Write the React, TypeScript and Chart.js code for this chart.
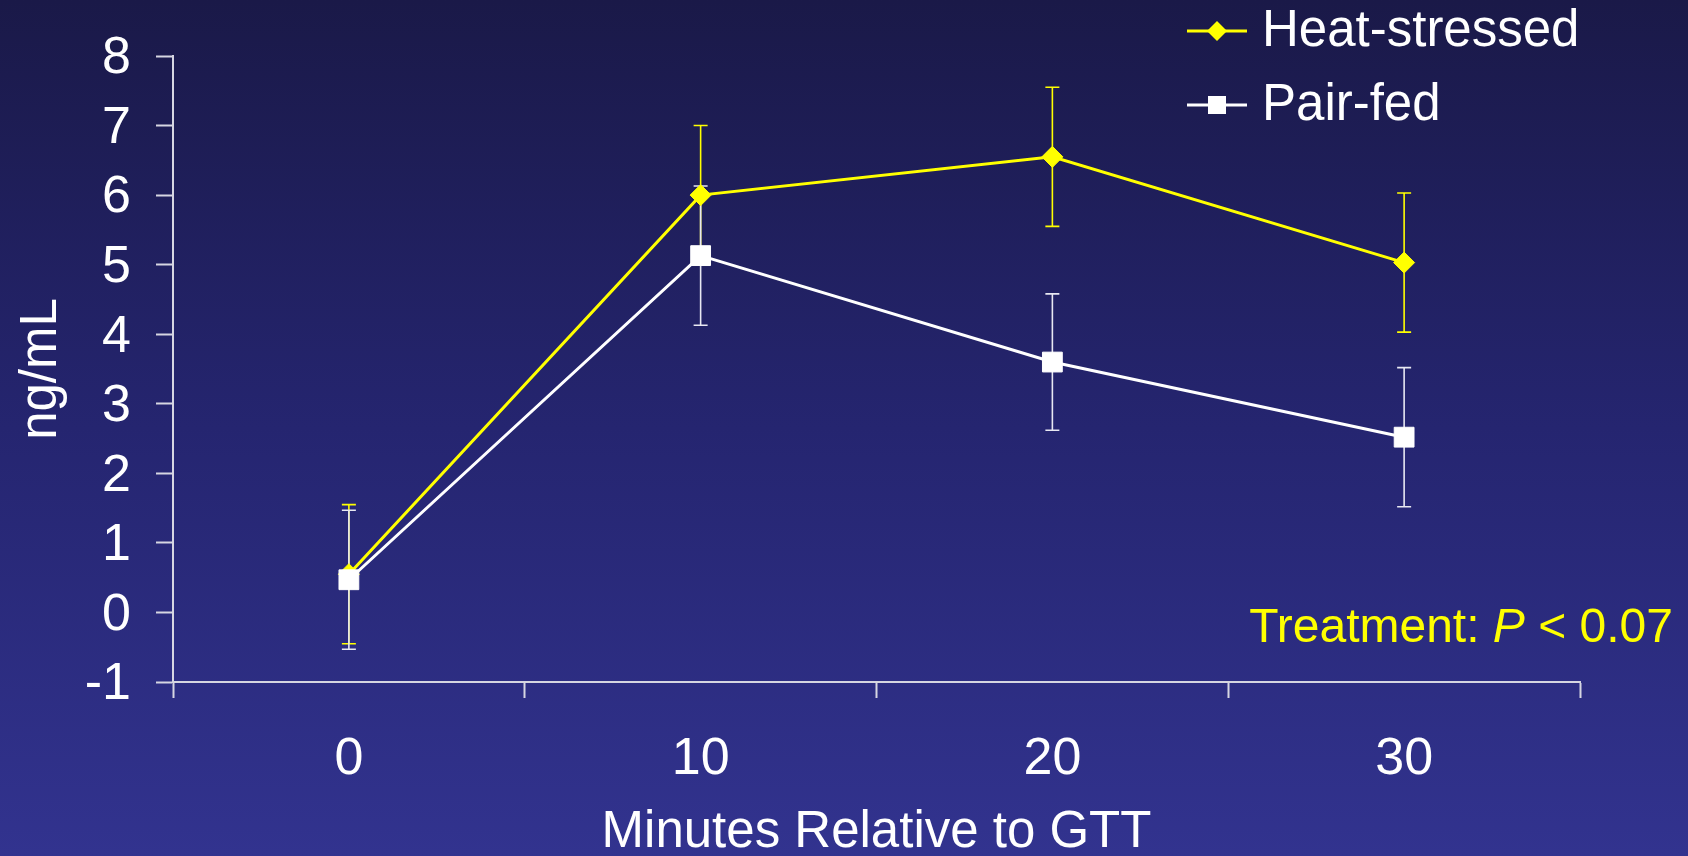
import React, { useEffect, useRef } from "react";
import { Chart, registerables } from "chart.js";

Chart.register(...registerables);

const categories = ["0", "10", "20", "30"];
const seriesLabels = ["Heat-stressed", "Pair-fed"];
const heatStressed = [0.55, 6.0, 6.55, 5.03];
const heatStressedErr = [1.0, 1.0, 1.0, 1.0];
const pairFed = [0.47, 5.13, 3.6, 2.52];
const pairFedErr = [1.0, 1.0, 0.98, 1.0];
const yTickMin = -1;
const yTickMax = 8;
const yTickStep = 1;
const xTitle = "Minutes Relative to GTT";
const yTitle = "ng/mL";
const noteLabel = "Treatment: ";
const noteP = "P";
const noteValue = " < 0.07";

const YELLOW = "#ffff00";
const WHITE = "#ffffff";
const AXIS = "#d6d6e2";
const FONT = "'Liberation Sans', Arial, sans-serif";

const errors = [heatStressedErr, pairFedErr];

const errorBarPlugin = {
  id: "errorBars",
  beforeDatasetsDraw(chart: any) {
    const { ctx } = chart;
    const y = chart.scales.y;
    const x = chart.scales.x;
    chart.data.datasets.forEach((ds: any, di: number) => {
      const err = errors[di];
      ctx.save();
      ctx.strokeStyle = di === 0 ? YELLOW : "#e8e8f2";
      ctx.lineWidth = 1.6;
      ds.data.forEach((v: number, i: number) => {
        const px = x.getPixelForValue(i);
        const top = y.getPixelForValue(v + err[i]);
        const bot = y.getPixelForValue(v - err[i]);
        ctx.beginPath();
        ctx.moveTo(px, top);
        ctx.lineTo(px, bot);
        ctx.moveTo(px - 7, top);
        ctx.lineTo(px + 7, top);
        ctx.moveTo(px - 7, bot);
        ctx.lineTo(px + 7, bot);
        ctx.stroke();
      });
      ctx.restore();
    });
  },
};

const annotationPlugin = {
  id: "legendAndNote",
  afterDraw(chart: any) {
    const { ctx, chartArea } = chart;
    ctx.save();
    // legend
    const legendYs = [31, 105];
    const lx0 = 1187;
    const lx1 = 1247;
    const mx = (lx0 + lx1) / 2;
    chart.data.datasets.forEach((ds: any, i: number) => {
      const ly = legendYs[i];
      ctx.strokeStyle = ds.borderColor;
      ctx.lineWidth = 3;
      ctx.beginPath();
      ctx.moveTo(lx0, ly);
      ctx.lineTo(lx1, ly);
      ctx.stroke();
      ctx.fillStyle = ds.borderColor;
      ctx.beginPath();
      if (ds.pointStyle === "rectRot") {
        const r = 10;
        ctx.moveTo(mx - r, ly);
        ctx.lineTo(mx, ly - r);
        ctx.lineTo(mx + r, ly);
        ctx.lineTo(mx, ly + r);
        ctx.closePath();
      } else {
        ctx.rect(mx - 9, ly - 9, 18, 18);
      }
      ctx.fill();
      ctx.fillStyle = WHITE;
      ctx.font = `51px ${FONT}`;
      ctx.textBaseline = "middle";
      ctx.textAlign = "left";
      ctx.fillText(ds.label, 1262, ly + 1);
    });
    // note
    const normal = `48px ${FONT}`;
    const italic = `italic 48px ${FONT}`;
    ctx.font = normal;
    const w1 = ctx.measureText(noteLabel).width;
    const w3 = ctx.measureText(noteValue).width;
    ctx.font = italic;
    const w2 = ctx.measureText(noteP).width;
    const right = chartArea.right + 93;
    let xx = right - (w1 + w2 + w3);
    const ny = 629;
    ctx.fillStyle = YELLOW;
    ctx.textBaseline = "middle";
    ctx.textAlign = "left";
    ctx.font = normal;
    ctx.fillText(noteLabel, xx, ny);
    xx += w1;
    ctx.font = italic;
    ctx.fillText(noteP, xx, ny);
    xx += w2;
    ctx.font = normal;
    ctx.fillText(noteValue, xx, ny);
    ctx.restore();
  },
};

export default function App() {
  const ref = useRef<HTMLCanvasElement | null>(null);
  useEffect(() => {
    if (!ref.current) return;
    const chart = new Chart(ref.current, {
      type: "line",
      data: {
        labels: categories,
        datasets: [
          {
            label: seriesLabels[0],
            data: heatStressed,
            borderColor: YELLOW,
            backgroundColor: YELLOW,
            borderWidth: 3,
            pointStyle: "rectRot",
            pointRadius: 10.5,
            pointBorderWidth: 1,
            pointBackgroundColor: YELLOW,
            pointBorderColor: YELLOW,
            tension: 0,
            order: 2,
          },
          {
            label: seriesLabels[1],
            data: pairFed,
            borderColor: WHITE,
            backgroundColor: WHITE,
            borderWidth: 3,
            pointStyle: "rect",
            pointRadius: 14,
            pointBorderWidth: 1,
            pointBackgroundColor: WHITE,
            pointBorderColor: WHITE,
            tension: 0,
            order: 1,
          },
        ],
      },
      options: {
        animation: false,
        responsive: false,
        maintainAspectRatio: false,
        layout: { padding: { top: 56, right: 108, left: 0, bottom: 0 } },
        plugins: {
          legend: { display: false },
          tooltip: { enabled: false },
        },
        scales: {
          x: {
            type: "category",
            offset: true,
            grid: {
              offset: true,
              drawOnChartArea: false,
              drawTicks: true,
              tickLength: 16,
              tickWidth: 2,
              tickColor: AXIS,
              color: AXIS,
            },
            border: { color: AXIS, width: 2 },
            ticks: {
              color: WHITE,
              font: { family: FONT, size: 52, lineHeight: 1 },
              padding: 36,
              maxRotation: 0,
            },
            title: {
              display: true,
              text: xTitle,
              color: WHITE,
              font: { family: FONT, size: 51, lineHeight: 1 },
              padding: { top: 0, bottom: -2 },
            },
            afterFit(scale: any) {
              scale.height = 174;
            },
          },
          y: {
            min: yTickMin,
            max: yTickMax,
            grid: {
              drawOnChartArea: false,
              drawTicks: true,
              tickLength: 17,
              tickWidth: 2,
              tickColor: AXIS,
              color: AXIS,
            },
            border: { color: AXIS, width: 2 },
            ticks: {
              stepSize: yTickStep,
              color: WHITE,
              font: { family: FONT, size: 52, lineHeight: 1 },
              padding: 25,
              labelOffset: 3,
            },
            title: {
              display: true,
              text: yTitle,
              color: WHITE,
              font: { family: FONT, size: 51, lineHeight: 1 },
              padding: { top: 16, bottom: 0 },
            },
            afterFit(scale: any) {
              scale.width = 173;
            },
          },
        },
      },
      plugins: [errorBarPlugin, annotationPlugin],
    } as any);
    return () => chart.destroy();
  }, []);
  return (
    <div
      style={{
        position: "fixed",
        left: 0,
        top: 0,
        width: 1688,
        height: 856,
        background: "linear-gradient(to bottom, rgb(26,25,72) 0%, rgb(37,37,112) 50%, rgb(50,51,143) 100%)",
      }}
    >
      <canvas ref={ref} width={1688} height={856} style={{ width: 1688, height: 856, display: "block" }} />
    </div>
  );
}
